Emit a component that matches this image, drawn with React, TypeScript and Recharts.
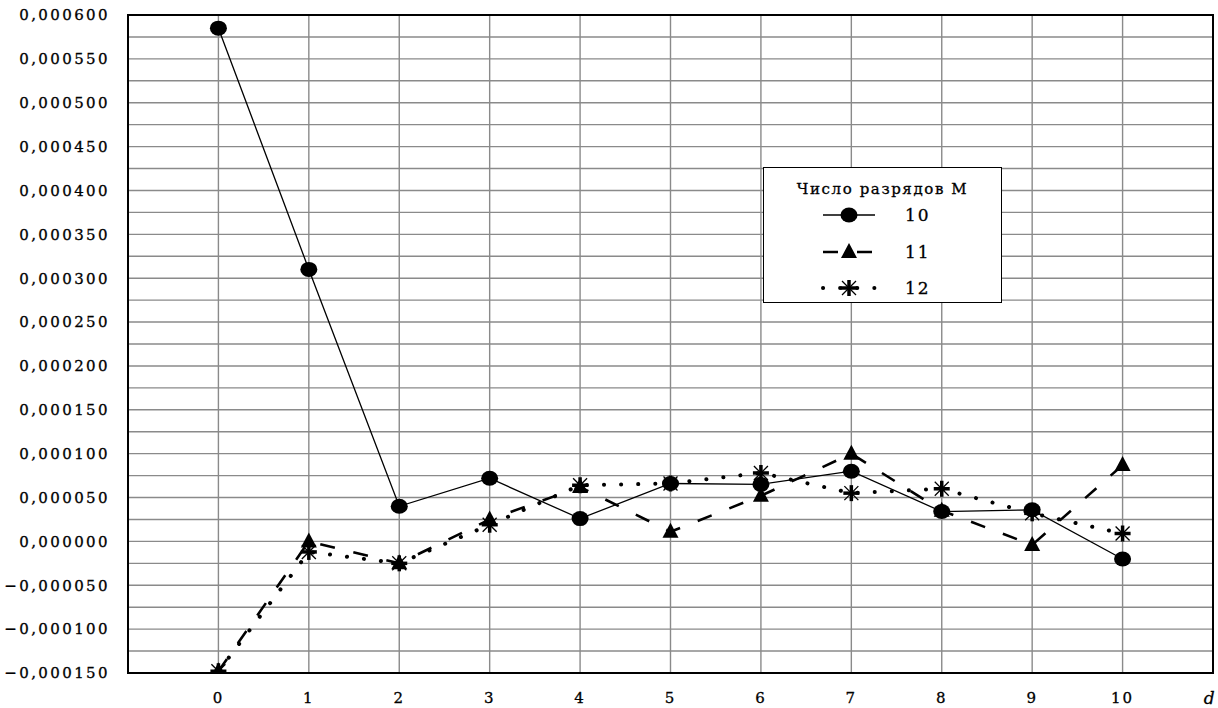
import React from 'react';
import { LineChart, Line, XAxis, YAxis, CartesianGrid, Legend, ReferenceArea } from 'recharts';

const xValues = [0, 1, 2, 3, 4, 5, 6, 7, 8, 9, 10];
// Число разрядов M = 10, 11, 12
const m10 = [0.000585, 0.00031, 0.00004, 0.000072, 0.000026, 0.000066, 0.000065, 0.00008, 0.000034, 0.000036, -0.00002];
const m11 = [-0.000148, 0.0, -0.000025, 0.000025, 0.000062, 0.000011, 0.000052, 0.0001, 0.000035, -0.000004, 0.000087];
const m12 = [-0.000148, -0.000012, -0.000025, 0.000019, 0.000064, 0.000066, 0.000078, 0.000055, 0.00006, 0.000032, 0.000009];

const xTicks = [0, 1, 2, 3, 4, 5, 6, 7, 8, 9, 10, 11];
const yTicks = [
  -0.00015, -0.000125, -0.0001, -0.000075, -0.00005, -0.000025, 0, 0.000025, 0.00005, 0.000075, 0.0001,
  0.000125, 0.00015, 0.000175, 0.0002, 0.000225, 0.00025, 0.000275, 0.0003, 0.000325, 0.00035, 0.000375,
  0.0004, 0.000425, 0.00045, 0.000475, 0.0005, 0.000525, 0.00055, 0.000575, 0.0006,
];
const legendTitle = 'Число разрядов M';
const seriesNames = ['10', '11', '12'];

const data = xValues.map((x, i) => ({ x, m10: m10[i], m11: m11[i], m12: m12[i] }));

const FONT = '"DejaVu Serif", "Liberation Serif", serif';

const fmtY = (v: number) => {
  if (Math.round(v * 1e6) % 50 !== 0) return '';
  return v.toFixed(6).replace('.', ',').replace('-', '\u2212');
};

const XTick = (props: any) => {
  const { x, y, payload } = props;
  const isD = payload.value === 11;
  return (
    <text
      x={x}
      y={y}
      dy="0.71em"
      textAnchor="middle"
      fill="#000"
      stroke="#000"
      strokeWidth={0.3}
      fontSize={isD ? 17 : 15}
      fontFamily={FONT}
      fontStyle={isD ? 'italic' : 'normal'}
      style={{ letterSpacing: 2 }}
    >
      {isD ? 'd' : payload.value}
    </text>
  );
};

const Circle = ({ cx, cy }: any) => <ellipse cx={cx} cy={cy} rx={8.5} ry={7.5} fill="#000" />;

const Triangle = ({ cx, cy }: any) => (
  <polygon points={`${cx},${cy - 9} ${cx - 8},${cy + 6} ${cx + 8},${cy + 6}`} fill="#000" />
);

const Star = ({ cx, cy }: any) => (
  <g stroke="#000">
    <line x1={cx - 8} y1={cy} x2={cx + 8} y2={cy} strokeWidth={3.5} />
    <line x1={cx} y1={cy - 8} x2={cx} y2={cy + 8} strokeWidth={3.5} />
    <line x1={cx - 7} y1={cy - 7} x2={cx + 7} y2={cy + 7} strokeWidth={1.3} />
    <line x1={cx - 7} y1={cy + 7} x2={cx + 7} y2={cy - 7} strokeWidth={1.3} />
  </g>
);

const lineStyles = [
  { stroke: '#000', strokeWidth: 1.3, dash: undefined, cap: 'butt', Marker: Circle },
  { stroke: '#000', strokeWidth: 2.6, dash: '15 19', cap: 'butt', Marker: Triangle },
  { stroke: '#000', strokeWidth: 4, dash: '0.1 17', cap: 'round', Marker: Star },
];

const renderLegend = () => (
  <div
    style={{
      width: 237,
      height: 134,
      border: '1.5px solid #000',
      background: '#fff',
      fontFamily: FONT,
      fontSize: 15,
      color: '#000',
      boxSizing: 'content-box',
      WebkitTextStroke: '0.3px #000',
    }}
  >
    <div style={{ textAlign: 'center', letterSpacing: 1.6, marginTop: 12, height: 17 }}>{legendTitle}</div>
    {seriesNames.map((name, i) => {
      const st = lineStyles[i];
      const M = st.Marker;
      return (
        <div key={name} style={{ display: 'flex', alignItems: 'center', height: 36.5 }}>
          <svg width={60} height={24} style={{ marginLeft: 55 }}>
            <line
              x1={4}
              y1={12}
              x2={56}
              y2={12}
              stroke={st.stroke}
              strokeWidth={st.strokeWidth}
              strokeDasharray={st.dash}
              strokeLinecap={st.cap as any}
            />
            <M cx={30} cy={12} />
          </svg>
          <span style={{ marginLeft: 26, fontSize: 17, letterSpacing: 2 }}>{name}</span>
        </div>
      );
    })}
  </div>
);

export default function App() {
  return (
    <div style={{ position: 'absolute', left: 0, top: 0, background: '#fff' }}>
      <LineChart width={1218} height={708} data={data} margin={{ top: 15, right: 5, bottom: 5, left: 0 }}>
        <CartesianGrid stroke="#8a8a8a" strokeWidth={1.4} />
        <XAxis
          type="number"
          dataKey="x"
          domain={[-1, 11]}
          ticks={xTicks}
          tick={<XTick />}
          tickLine={false}
          tickMargin={13}
          height={30}
          axisLine={{ stroke: '#000', strokeWidth: 2 }}
          allowDataOverflow
        />
        <YAxis
          type="number"
          domain={[-0.00015, 0.0006]}
          ticks={yTicks}
          tickFormatter={fmtY}
          width={128}
          tickLine={false}
          tickMargin={12}
          interval={0}
          axisLine={{ stroke: '#000', strokeWidth: 2 }}
          tick={{ fill: '#000', stroke: '#000', strokeWidth: 0.3, fontSize: 15, fontFamily: FONT, style: { letterSpacing: 2.4 } } as any}
          allowDataOverflow
        />
        <ReferenceArea x1={-1} x2={11} y1={-0.00015} y2={0.0006} fill="none" stroke="#000" strokeWidth={2} />
        {(['m10', 'm11', 'm12'] as const).map((key, i) => {
          const st = lineStyles[i];
          const M = st.Marker;
          return (
            <Line
              key={key}
              type="linear"
              dataKey={key}
              name={seriesNames[i]}
              stroke={st.stroke}
              strokeWidth={st.strokeWidth}
              strokeDasharray={st.dash}
              strokeLinecap={st.cap as any}
              dot={(p: any) => <M key={`${key}-${p.index}`} cx={p.cx} cy={p.cy} />}
              activeDot={false}
              isAnimationActive={false}
            />
          );
        })}
        <Legend
          layout="vertical"
          align="center"
          verticalAlign="middle"
          content={renderLegend}
          wrapperStyle={{ left: 763, top: 167, width: 240, height: 137 }}
        />
      </LineChart>
    </div>
  );
}
